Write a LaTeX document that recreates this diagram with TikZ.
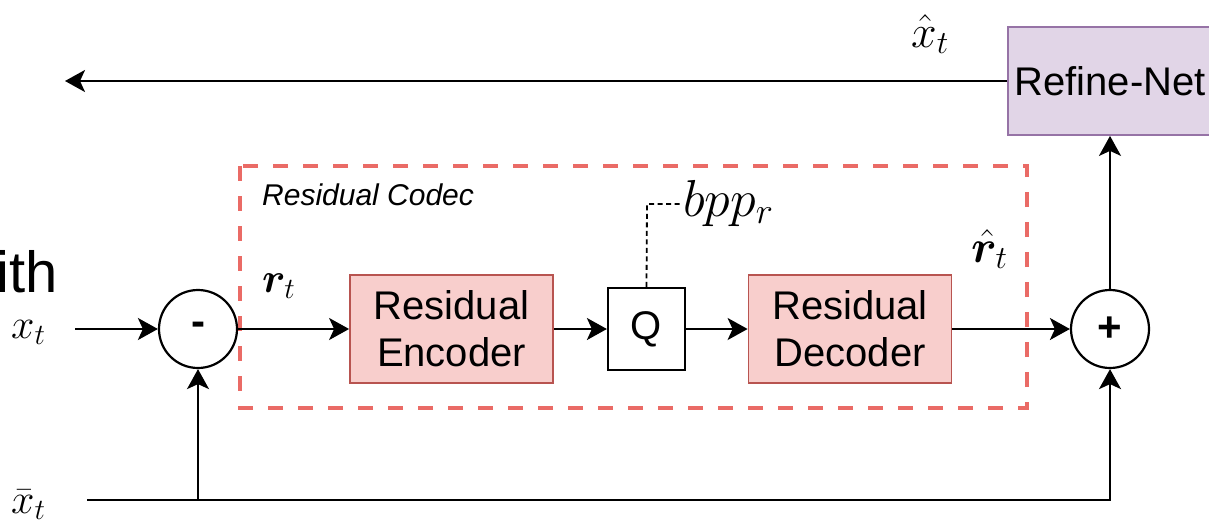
\RequirePackage{fix-cm}
\documentclass[tikz,border=0pt]{standalone}
\usepackage{fontspec}
\usepackage{amsmath}
\usepackage{bm}
\newfontfamily\labelfont{Liberation Sans}
\usetikzlibrary{arrows.meta}
\definecolor{encfill}{HTML}{F8CECC}
\definecolor{encstroke}{HTML}{B85450}
\definecolor{refinefill}{HTML}{E1D5E7}
\definecolor{refinestroke}{HTML}{9673A6}
\definecolor{codecred}{RGB}{234,107,102}
\DeclareMathSizes{42}{42}{29.4}{21}
\DeclareMathSizes{46}{46}{32.2}{23}
\DeclareMathSizes{52}{52}{36.4}{26}
\newcommand{\mathsize}[1]{\fontsize{#1}{#1}\selectfont}
\newcommand{\boxfont}{\labelfont\fontsize{40}{47}\selectfont}
\begin{document}
\begin{tikzpicture}[x=1pt,y=-1pt,
  wire/.style={line width=2.2pt,draw=black},
  arr/.style={wire,-{Stealth[length=20pt,width=22pt,inset=5pt]}},
  block/.style={draw=encstroke,fill=encfill,line width=1.8pt,minimum width=203pt,
    minimum height=108pt,align=center,inner sep=0pt,font=\boxfont},
  qbox/.style={draw=black,fill=white,line width=2.2pt,minimum width=77pt,
    minimum height=82pt,inner sep=0pt,font=\boxfont},
  sumnode/.style={circle,draw=black,fill=white,line width=2.2pt,minimum size=78pt,
    inner sep=0pt,font=\labelfont\bfseries\fontsize{42}{48}\selectfont},
  mathlabel/.style={anchor=base west,inner sep=0pt,font=\mathsize{#1}},
  mathlabel/.default=42,
  codecframe/.style={draw=codecred,line width=4pt,dash pattern=on 15pt off 15pt},
  ratewire/.style={line width=1.8pt,draw=black,dash pattern=on 5pt off 3.5pt}]
\useasboundingbox (0,0) rectangle (1209,522);

% leftover text at the left border
\node[anchor=base west,inner sep=0pt,font=\labelfont\fontsize{58}{66}\selectfont]
  (withtxt) at (-4,292) {ith};

% residual codec frame
\draw[codecframe] (240,166) rectangle (1027,408);
\node[anchor=base west,inner sep=0pt,font=\labelfont\itshape\fontsize{30}{36}\selectfont]
  (codeclabel) at (262,205) {Residual Codec};

% blocks
\node[sumnode] (minus) at (198,329) {-};
\node[block] (enc) at (451.5,329) {Residual\\Encoder};
\node[qbox] (q) at (646.5,329) {Q};
\node[block] (dec) at (850,329) {Residual\\Decoder};
\node[sumnode] (plus) at (1110,329) {+};
\node[block,draw=refinestroke,fill=refinefill,minimum width=204pt] (refine) at (1110,81) {Refine-Net};

% labels
\node[mathlabel] (xt) at (11,338) {$x_t$};
\node[mathlabel] (xbar) at (11,513) {$\bar{x}_t$};
\node[mathlabel=46] (xhat) at (911,47) {$\hat{x}_t$};
\node[mathlabel] (rt) at (262,292) {$\bm{r}_t$};
\node[mathlabel=46] (rhat) at (971,262) {$\hat{\bm{r}}_t$};
\node[mathlabel=52] (bpp) at (683,216) {$bpp_r$};

% coordinates for free ends
\coordinate (xin) at (75,329);
\coordinate (xbarin) at (87,500);
\coordinate (out) at (65,81);
\coordinate (ratecorner) at (647,204);

% connectors
\draw[arr] (xin) -- (minus.west);
\draw[arr] (minus.east) -- (enc.west);
\draw[arr] (enc.east) -- (q.west);
\draw[arr] (q.east) -- (dec.west);
\draw[arr] (dec.east) -- (plus.west);
\draw[arr] (xbarin) -- (plus.south |- xbarin) -- (plus.south);
\draw[arr] (minus.south |- xbarin) -- (minus.south);
\draw[arr] (plus.north) -- (refine.south);
\draw[arr] (refine.west) -- (out);
\draw[ratewire] (q.north) -- (ratecorner) -- (ratecorner -| bpp.west);
\end{tikzpicture}
\end{document}
